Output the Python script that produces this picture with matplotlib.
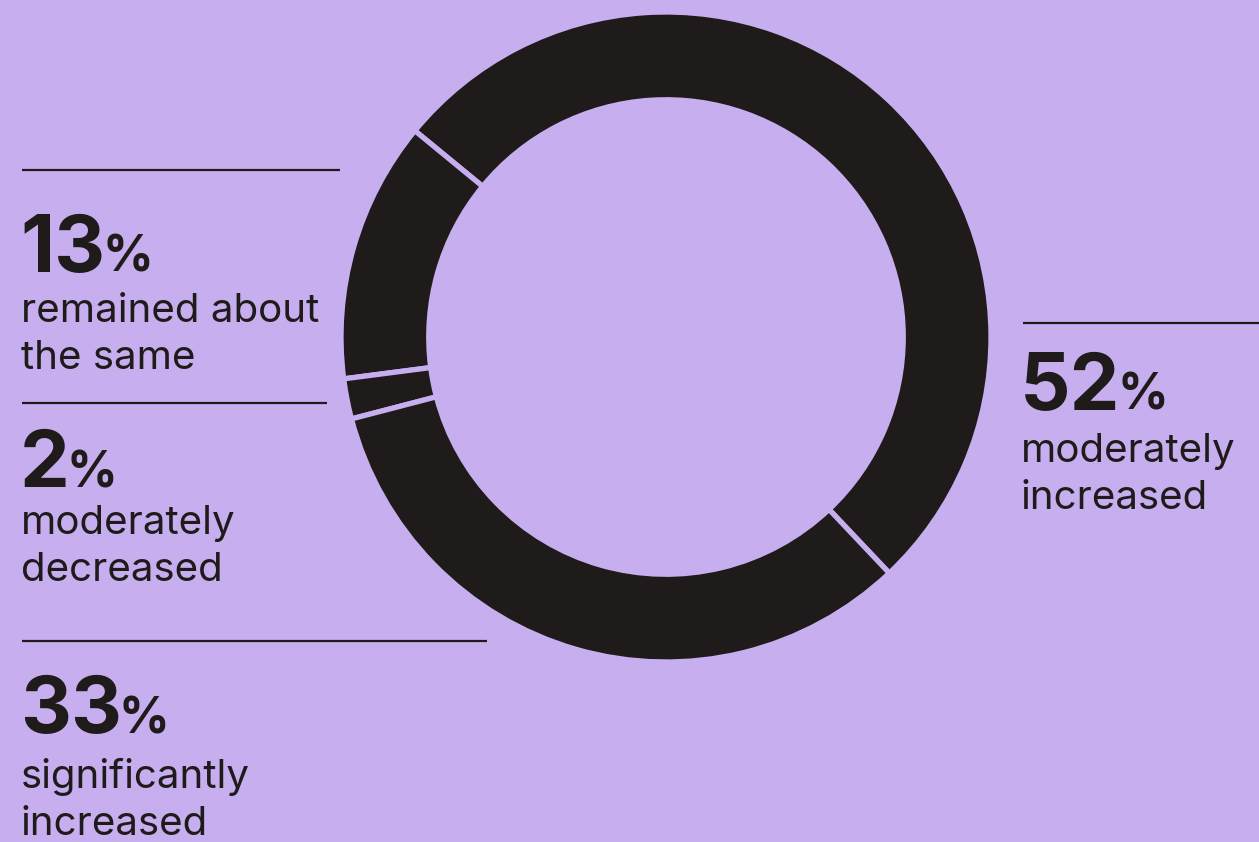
import matplotlib
matplotlib.use("Agg")
import matplotlib.pyplot as plt

values = [52, 13, 2, 33]
numbers = ["52", "13", "2", "33"]
labels = ["moderately\nincreased", "remained about\nthe same", "moderately\ndecreased", "significantly\nincreased"]

BG = "#C6AEEF"
DARK = "#1E1B1A"
W, H = 1259, 842

fig = plt.figure(figsize=(W / 100, H / 100), dpi=100, facecolor=BG)

# donut
cx, cy, R = 666, 337, 325
pax = fig.add_axes([(cx - R) / W, (H - cy - R) / H, 2 * R / W, 2 * R / H])
pax.set_facecolor("none")
pax.pie(values, startangle=-46.6, counterclock=True, radius=1,
        colors=[DARK] * len(values),
        wedgeprops=dict(width=0.27, edgecolor=BG, linewidth=3.8))
pax.set_xlim(-1, 1)
pax.set_ylim(-1, 1)
pax.set_aspect("equal")
pax.axis("off")

# overlay for text and rules
ax = fig.add_axes([0, 0, 1, 1])
ax.set_xlim(0, W)
ax.set_ylim(H, 0)
ax.axis("off")
ax.set_facecolor("none")

NUMFONT = dict(family=["Inter", "DejaVu Sans"], weight="bold", size=57, color=DARK)
PCTFONT = dict(family=["Inter", "DejaVu Sans"], weight="bold", size=36, color=DARK)
LBLFONT = dict(family=["Inter", "DejaVu Sans"], weight="normal", size=29, color=DARK)

# (line y, line x0, line x1, text x, number baseline, label first baseline)
blocks = {
    0: (323, 1023, 1259, 1020, 410, 462),
    1: (170, 22, 340, 20, 272, 322),
    2: (403, 22, 327, 20, 487, 534),
    3: (641, 22, 487, 20, 733, 788),
}

fig.canvas.draw()
renderer = fig.canvas.get_renderer()
for i, (ly, lx0, lx1, tx, nb, lb) in blocks.items():
    ax.plot([lx0, lx1], [ly, ly], color=DARK, lw=1.6, solid_capstyle="butt")
    t = ax.text(tx, nb, numbers[i], ha="left", va="baseline", **NUMFONT)
    bb = t.get_window_extent(renderer=renderer)
    x_end = ax.transData.inverted().transform((bb.x1, bb.y0))[0]
    ax.text(x_end - 3, nb, "%", ha="left", va="baseline", **PCTFONT)
    for k, line in enumerate(labels[i].split("\n")):
        ax.text(tx + 1, lb + k * 47, line, ha="left", va="baseline", **LBLFONT)

fig.savefig("out.png", dpi=100, facecolor=BG)
